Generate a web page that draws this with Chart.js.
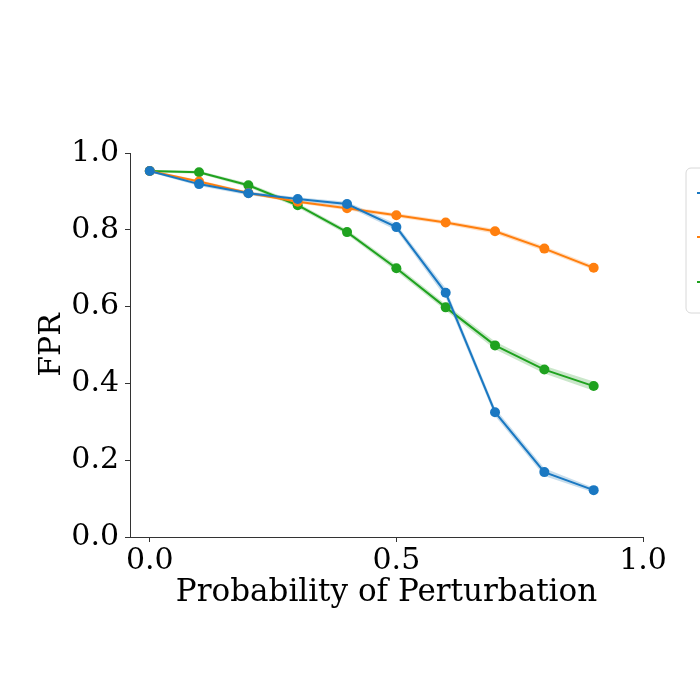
<!DOCTYPE html>
<html>
<head>
<meta charset="utf-8">
<script src="https://cdn.jsdelivr.net/npm/chart.js@4/dist/chart.umd.min.js"></script>
<style>
html,body{margin:0;padding:0;background:#fff;overflow:hidden;}
#wrap{width:700px;height:700px;position:relative;}
</style>
</head>
<body>
<div id="wrap"><canvas id="c" width="700" height="700"></canvas></div>
<script>
const probs = [0.0, 0.1, 0.2, 0.3, 0.4, 0.5, 0.6, 0.7, 0.8, 0.9];
const blueVals   = [0.953, 0.919, 0.895, 0.880, 0.867, 0.807, 0.636, 0.325, 0.169, 0.122];
const orangeVals = [0.953, 0.926, 0.896, 0.873, 0.856, 0.838, 0.819, 0.796, 0.751, 0.701];
const greenVals  = [0.953, 0.950, 0.916, 0.864, 0.794, 0.700, 0.598, 0.499, 0.436, 0.393];
const blueErr    = [0.003, 0.005, 0.005, 0.005, 0.006, 0.008, 0.012, 0.010, 0.010, 0.006];
const orangeErr  = [0.003, 0.004, 0.004, 0.004, 0.005, 0.005, 0.005, 0.006, 0.006, 0.006];
const greenErr   = [0.003, 0.004, 0.005, 0.006, 0.006, 0.008, 0.008, 0.010, 0.010, 0.012];
const xTicks = [0.0, 0.5, 1.0];
const yTicks = [0.0, 0.2, 0.4, 0.6, 0.8, 1.0];

const colors = ['#1a78c2', '#ff7f0e', '#1fa21f'];
const bands = ['rgba(31,119,180,0.25)', 'rgba(255,127,14,0.25)', 'rgba(44,160,44,0.25)'];
const series = [blueVals, orangeVals, greenVals];
const errs = [blueErr, orangeErr, greenErr];

const pts = v => probs.map((x, i) => ({x: x, y: v[i]}));
const datasets = [];
series.forEach((vals, k) => {
  const lo = vals.map((v, i) => v - errs[k][i]);
  const hi = vals.map((v, i) => v + errs[k][i]);
  datasets.push({data: pts(lo), borderWidth: 0, pointRadius: 0, fill: false, backgroundColor: bands[k], order: 10});
  datasets.push({data: pts(hi), borderWidth: 0, pointRadius: 0, fill: '-1', backgroundColor: bands[k], order: 10});
});
series.forEach((vals, k) => {
  datasets.push({data: pts(vals), borderColor: colors[k], backgroundColor: colors[k], borderWidth: 2,
    pointRadius: 5, pointHoverRadius: 5, pointBorderWidth: 0, fill: false, order: 1});
});

const fontFam = '"DejaVu Serif", serif';

const legendBox = {
  id: 'legendBox',
  afterDraw(chart) {
    const ctx = chart.ctx;
    ctx.save();
    const x = 686, y = 168, w = 40, h = 145, r = 5;
    ctx.beginPath();
    ctx.moveTo(x + r, y); ctx.lineTo(x + w, y); ctx.lineTo(x + w, y + h); ctx.lineTo(x + r, y + h);
    ctx.arcTo(x, y + h, x, y + h - r, r); ctx.lineTo(x, y + r); ctx.arcTo(x, y, x + r, y, r);
    ctx.fillStyle = 'rgba(255,255,255,0.8)'; ctx.fill();
    ctx.strokeStyle = '#d8d8d8'; ctx.lineWidth = 1; ctx.stroke();
    const ys = [193, 237, 282];
    ys.forEach((yy, k) => {
      ctx.beginPath(); ctx.moveTo(697, yy); ctx.lineTo(720, yy);
      ctx.strokeStyle = colors[k]; ctx.lineWidth = 2; ctx.stroke();
    });
    ctx.restore();
  }
};

new Chart(document.getElementById('c'), {
  type: 'line',
  data: {datasets: datasets},
  options: {
    responsive: false,
    animation: false,
    layout: {padding: {left: 30, top: 153, right: 57, bottom: 88}},
    plugins: {legend: {display: false}, tooltip: {enabled: false}},
    elements: {line: {tension: 0}},
    scales: {
      x: {
        type: 'linear', min: -0.04, max: 1.0,
        afterFit: s => { s.height = 75; },
        afterBuildTicks: s => { s.ticks = xTicks.map(v => ({value: v})); },
        grid: {display: true, drawOnChartArea: false, drawTicks: true, tickLength: 5, color: '#333', lineWidth: 1},
        border: {display: true, color: '#333', width: 1},
        ticks: {color: '#000', font: {family: fontFam, size: 30}, padding: 1, maxRotation: 0,
          callback: v => v.toFixed(1)},
        title: {display: true, text: 'Probability of Perturbation', color: '#000',
          font: {family: fontFam, size: 31}, padding: {top: 0, bottom: 0}}
      },
      y: {
        type: 'linear', min: 0, max: 1,
        afterFit: s => { s.width = 100; },
        afterBuildTicks: s => { s.ticks = yTicks.map(v => ({value: v})); },
        grid: {display: true, drawOnChartArea: false, drawTicks: true, tickLength: 5, color: '#333', lineWidth: 1},
        border: {display: true, color: '#333', width: 1},
        ticks: {color: '#000', font: {family: fontFam, size: 30}, padding: 6,
          callback: v => v.toFixed(1)},
        title: {display: true, text: 'FPR', color: '#000',
          font: {family: fontFam, size: 30}, padding: {top: 4, bottom: 0}}
      }
    }
  },
  plugins: [legendBox]
});
</script>
</body>
</html>
